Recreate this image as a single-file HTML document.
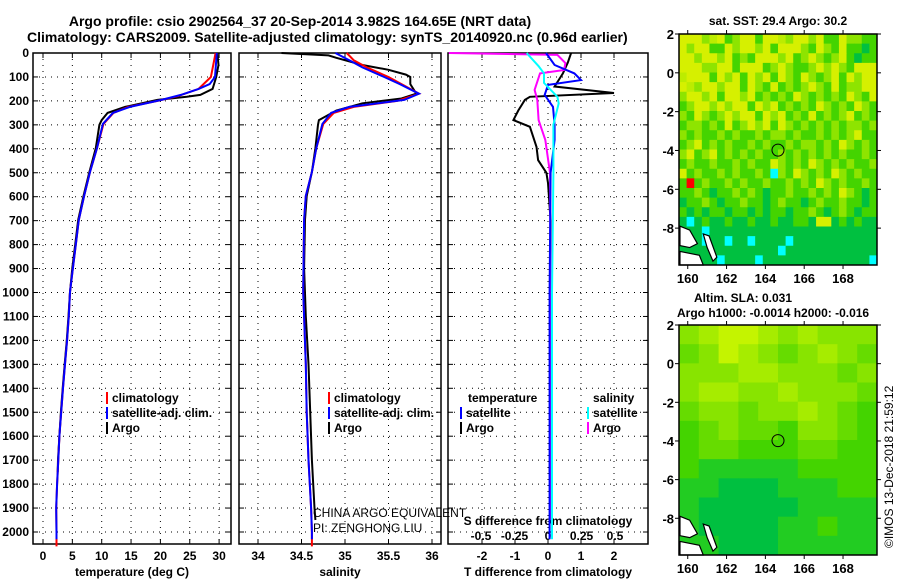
<!DOCTYPE html>
<html><head><meta charset="utf-8"><style>
html,body{margin:0;padding:0;background:#fff;}
svg{display:block;font-family:"Liberation Sans",sans-serif;font-weight:bold;}
text{font-size:12px;fill:#000;}
</style></head><body>
<svg id="fig" width="900" height="580" viewBox="0 0 900 580" xmlns="http://www.w3.org/2000/svg">
<text x="300" y="26" text-anchor="middle" style="font-size:14px">Argo profile: csio 2902564_37 20-Sep-2014 3.982S 164.65E (NRT data)</text>
<text x="27" y="42" style="font-size:14px">Climatology: CARS2009. Satellite-adjusted climatology: synTS_20140920.nc (0.96d earlier)</text>
<g id="g"></g>
</svg>
<script>
// ---- data ----
const depthTicks=[0,100,200,300,400,500,600,700,800,900,1000,1100,1200,1300,1400,1500,1600,1700,1800,1900,2000];
const tempTicks=[0,5,10,15,20,25,30];
const salTicks=[34,34.5,35,35.5,36];
const tdTicks=[-2,-1,0,1,2];
const sdTicks=[-0.5,-0.25,0,0.25,0.5];
const sdTickLabels=["-0.5","-0.25","0","0.25","0.5"];
// temperature profiles [depth, value]
const tArgo=[[0,29.7],[50,29.9],[100,29.5],[150,28.9],[175,26.8],[183,24.5],[196,19.5],[225,14],[250,11],[280,10],[300,9.6],[397,9.0],[497,7.9],[597,6.9],[697,6.0],[797,5.5],[898,5.0],[998,4.6],[1098,4.35],[1198,4.05],[1299,3.7],[1399,3.35],[1499,3.05],[1599,2.8],[1699,2.55],[1750,2.5]];
const tClim=[[0,29.4],[100,28.6],[150,26.5],[180,23],[200,19.5],[225,14.5],[250,12],[296,10.3],[397,9.2],[497,8.0],[597,7.0],[697,6.1],[797,5.6],[898,5.1],[998,4.6],[1098,4.4],[1198,4.1],[1299,3.75],[1399,3.4],[1499,3.1],[1599,2.8],[1699,2.6],[1800,2.4],[1900,2.25],[2000,2.3],[2060,2.3]];
const tSat=[[0,29.6],[100,29.3],[130,28.4],[150,26.5],[175,23.5],[196,20.2],[225,14.8],[250,11.9],[296,10.2],[397,9.2],[497,8.0],[597,7.0],[697,6.1],[797,5.6],[898,5.1],[998,4.6],[1098,4.4],[1198,4.1],[1299,3.75],[1399,3.4],[1499,3.1],[1599,2.8],[1699,2.6],[1800,2.4],[1900,2.25],[2000,2.3],[2030,2.3]];
// salinity profiles
const sArgo=[[0,34.27],[10,34.81],[20,34.9],[50,35.2],[70,35.5],[90,35.7],[100,35.75],[130,35.75],[170,35.82],[190,35.65],[210,35.2],[240,34.9],[280,34.7],[300,34.69],[397,34.66],[497,34.62],[597,34.56],[697,34.54],[898,34.53],[1098,34.55],[1299,34.58],[1499,34.6],[1699,34.62],[1900,34.65],[1950,34.66]];
const sClim=[[0,35.02],[30,35.1],[60,35.25],[100,35.5],[130,35.65],[170,35.85],[200,35.6],[225,35.1],[250,34.87],[296,34.75],[397,34.67],[497,34.62],[597,34.55],[697,34.53],[998,34.52],[1299,34.55],[1499,34.56],[1699,34.58],[1900,34.61],[2000,34.62],[2060,34.62]];
const sSat=[[0,34.89],[30,35.05],[60,35.2],[100,35.45],[130,35.63],[170,35.85],[196,35.68],[225,35.05],[250,34.84],[296,34.74],[397,34.67],[497,34.62],[597,34.55],[697,34.53],[998,34.52],[1299,34.55],[1499,34.56],[1699,34.58],[1900,34.61],[2000,34.62],[2030,34.62]];
// differences
const tdArgo=[[0,0.7],[40,0.6],[85,0.45],[140,0.2],[167,2.0],[183,-0.55],[196,-0.7],[240,-0.9],[280,-1.05],[308,-0.55],[392,-0.35],[447,-0.3],[500,-0.05],[543,0],[700,0.08],[1000,0.08],[1500,0.1],[1750,0.05]];
const tdSat=[[0,-0.06],[50,0.2],[85,0.8],[113,1.0],[133,0],[175,-0.1],[225,0.15],[300,0.2],[363,0.2],[500,0.08],[1000,0.05],[1500,0.05],[2030,0.05]];
const sdArgo=[[0,-0.74],[8,0.07],[42,0.13],[71,0.12],[85,-0.06],[154,-0.1],[196,-0.08],[280,-0.07],[363,-0.02],[500,0.015],[1000,0.02],[1500,0.02],[1950,0.02]];
const sdSat=[[0,-0.16],[55,-0.07],[85,-0.03],[125,-0.03],[183,0.07],[210,0.08],[300,0.04],[500,0.04],[1000,0.03],[1500,0.03],[2030,0.03]];
// maps
const mapLon=[159.55,169.75];
const mapLat=[2,-9.9];
const lonTicks=[160,162,164,166,168];
const latTicks=[2,0,-2,-4,-6,-8];
const sstRows=[
"YYYLyYGLYYGYYyLYYLYGGYLLGG","YLYYGGYLYYLYGYYYLGYLGYGGDG","YYLYYLYGLGYYYLYGLYLGLYGDGG","YYYLLYYGYYYGLYLGGLYLYLGYYY",
"yYYYGYLYGYLYGYLGYLGLYGYLYY","YyLYYLYYGYLGYGLGLYLGYGLLYY","LYYLYGYYLYGLGLGYLGLGLGYLGY","GLYYLYLYYGYLYGLGLGYLGLGYLG",
"LGYLGLYLYYGYLYGLGYGLGLYGLG","GLLGLGYGLYLYGYLGLGLGLGLLGL","LGLGGLGLGGLGLLGLGGLGLGLYGG","GLYGLGLGGLGLGGLGLLGLGYLGLG",
"LYGLYGLGLGLGGLGLGLGLGLGGLG","GLGGLGGLGLGGYLGLGYLGLGLGGL","YGLGGLGLGGLGCLGYLGLGYLGLGG","GRGLGGLGLGGLGGLGLGYLGLGGLG",
"GGLGDGGLGLGDGGLGGLGLGYLGDG","DGGLGDGGLGGDGLGGDGLGGLGGDG","GDGDGGDGGDGDGGDGGLGDGLGDGG","DCDGDDGDDGDDGDDGGDYYDGDGDD",
"DDDCDDDDDDDDDDDDDDDDDDDDDD","DDDCDDCDDCDDDDCDDDDDDDDDDD","DDDDDDDDDDDDDCDDDDDDDDDDDD","DDDDDCDDDDCDDDDDDDDDDDDDDC"];
const slaRows=["4566545444","3465434543","4445544434","4554454443","3443445432","2343324432","2332223322","2111112222","1100011122","1000001111","1000011211","1100011111"];
</script>
<script>
const NS="http://www.w3.org/2000/svg";
const G=document.getElementById('g');
function mk(tag,attrs,parent){const e=document.createElementNS(NS,tag);for(const k in attrs)e.setAttribute(k,attrs[k]);(parent||G).appendChild(e);return e;}
const TOP=53,BOT=544;
function yD(d){return TOP+d*0.2395;}
function xT(v){return 43+v*5.87;}
function xS(v){return 258+(v-34)*87;}
function xTD(v){return 548+v*33;}
function xSD(v){return 548+v*134;}
const panels=[{x0:33,x1:231,fx:xT,ticks:tempTicks,labs:tempTicks.map(String),title:"temperature (deg C)",name:"temperature-panel"},
{x0:239,x1:441,fx:xS,ticks:salTicks,labs:salTicks.map(String),title:"salinity",name:"salinity-panel"},
{x0:448,x1:648,fx:xTD,ticks:tdTicks,labs:tdTicks.map(String),title:"T difference from climatology",name:"difference-panel"}];
panels.forEach((p,pi)=>{
  const g=mk('g',{});
  
  
  depthTicks.forEach(d=>{
    const l=mk('line',{x1:p.x0,x2:p.x1,y1:yD(d),y2:yD(d),stroke:'#000','stroke-width':1,'stroke-dasharray':'1 5'},g);
    
    
    mk('line',{x1:p.x0,x2:p.x0+5,y1:yD(d),y2:yD(d),stroke:'#000'},g);
    mk('line',{x1:p.x1-5,x2:p.x1,y1:yD(d),y2:yD(d),stroke:'#000'},g);
  });
  p.ticks.forEach((t,i)=>{
    const x=p.fx(t);
    mk('line',{x1:x,x2:x,y1:TOP,y2:BOT,stroke:'#000','stroke-dasharray':'1 5'},g);
    mk('line',{x1:x,x2:x,y1:TOP,y2:TOP+5,stroke:'#000'},g);
    mk('line',{x1:x,x2:x,y1:BOT-5,y2:BOT,stroke:'#000'},g);
    const tx=mk('text',{x:x,y:560,'text-anchor':'middle'},g);tx.textContent=p.labs[i];
    
    
  });
  const tt=mk('text',{x:(p.x0+p.x1)/2,y:576,'text-anchor':'middle'},g);tt.textContent=p.title;
  
  
  const fr=mk('rect',{x:p.x0,y:TOP,width:p.x1-p.x0,height:BOT-TOP,fill:'none',stroke:'#000','stroke-width':1.5},g);
  
  
});
depthTicks.forEach(d=>{
  const t=mk('text',{x:29,y:yD(d)+4,'text-anchor':'end'});t.textContent=d;
  
  
});
const sdt=mk('text',{x:548,y:525,'text-anchor':'middle'});sdt.textContent="S difference from climatology";


sdTicks.forEach((v,i)=>{const t=mk('text',{x:xSD(v),y:540,'text-anchor':'middle'});t.textContent=sdTickLabels[i];
  
  });
function line(data,fx,color,name,w){
  const pts=data.map(p=>fx(p[1]).toFixed(1)+','+yD(p[0]).toFixed(1)).join(' ');
  const e=mk('polyline',{points:pts,fill:'none',stroke:color,'stroke-width':w||2});
  
  
}
line(tArgo,xT,'#000','temperature-argo-line');
line(tClim,xT,'#f00','temperature-climatology-line');
line(tSat,xT,'#00f','temperature-satellite-line');
line(sArgo,xS,'#000','salinity-argo-line');
line(sClim,xS,'#f00','salinity-climatology-line');
line(sSat,xS,'#00f','salinity-satellite-line');
line(tdArgo,xTD,'#000','tdiff-argo-line');
line(sdArgo,xSD,'#f0f','sdiff-argo-line');
line(tdSat,xTD,'#00f','tdiff-satellite-line');
line(sdSat,xSD,'#0ff','sdiff-satellite-line');
function legend(x,y,items){
  items.forEach((it,i)=>{
    const yy=y+i*15;
    mk('rect',{x:x,y:yy-10,width:2,height:12,fill:it[1]});
    const t=mk('text',{x:x+6,y:yy});t.textContent=it[0];
    
    
  });
}
legend(106,402,[["climatology","#f00"],["satellite-adj. clim.","#00f"],["Argo","#000"]]);
legend(328,402,[["climatology","#f00"],["satellite-adj. clim.","#00f"],["Argo","#000"]]);
const lt=mk('text',{x:468,y:402});lt.textContent="temperature";
const ls=mk('text',{x:593,y:402});ls.textContent="salinity";
legend(460,417,[["satellite","#00f"],["Argo","#000"]]);
legend(587,417,[["satellite","#0ff"],["Argo","#f0f"]]);
const c1=mk('text',{x:313,y:517,style:'font-weight:normal;font-size:12px'});c1.textContent="CHINA ARGO EQUIVALENT";


const c2=mk('text',{x:313,y:532,style:'font-weight:normal;font-size:12px'});c2.textContent="PI: ZENGHONG LIU";


// ---- maps ----
const MX0=679,MX1=877;
function mapX(lon){return MX0+(lon-mapLon[0])/(mapLon[1]-mapLon[0])*(MX1-MX0);}
const sstCol={Y:'#d6f000',y:'#bcec00',L:'#8ee400',G:'#44d400',D:'#00c040',C:'#00ffff',R:'#ff0000'};
const slaCol=['#00c040','#22cc22','#44d400','#66dc00','#88e400','#a6ec00','#c4f400'];
function drawMap(top,bot,rows,colf,name){
  const g=mk('g',{});
  
  
  const mapY=lat=>top+(mapLat[0]-lat)/(mapLat[0]-mapLat[1])*(bot-top);
  const rh=(bot-top)/rows.length;
  rows.forEach((r,ri)=>{
    const cw=(MX1-MX0)/r.length;
    for(let ci=0;ci<r.length;ci++){
      const c=mk('rect',{x:MX0+ci*cw,y:top+ri*rh,width:cw+0.5,height:rh+0.5,fill:colf(r[ci])},g);
      
      
    }
  });
  const isl=[[[159.6,-7.9],[160.1,-8.1],[160.5,-8.8],[160.1,-9.0],[159.6,-8.9]],[[160.8,-8.3],[161.1,-8.4],[161.5,-9.5],[161.3,-9.7],[161.0,-9.0]],[[159.6,-9.2],[160.6,-9.4],[160.8,-9.9],[159.6,-9.9]]];
  isl.forEach(poly=>{
    const p=mk('polygon',{points:poly.map(q=>mapX(q[0])+','+mapY(q[1])).join(' '),fill:'#fff',stroke:'#000','stroke-width':1.2},g);
    
    
  });
  const circ=mk('circle',{cx:mapX(164.65),cy:mapY(-3.982),r:6,fill:'none',stroke:'#000','stroke-width':1},g);
  
  
  mk('rect',{x:MX0,y:top,width:MX1-MX0,height:bot-top,fill:'none',stroke:'#000','stroke-width':1.5},g);
  latTicks.forEach(l=>{
    const y=mapY(l);
    mk('line',{x1:MX0-4,x2:MX0,y1:y,y2:y,stroke:'#000'},g);
    mk('line',{x1:MX1,x2:MX1+4,y1:y,y2:y,stroke:'#000'},g);
    const t=mk('text',{x:674,y:y+5,'text-anchor':'end',style:'font-size:13px'},g);t.textContent=l;
    
    
  });
  lonTicks.forEach(l=>{
    const x=mapX(l);
    mk('line',{x1:x,x2:x,y1:top-4,y2:top,stroke:'#000'},g);
    mk('line',{x1:x,x2:x,y1:bot,y2:bot+4,stroke:'#000'},g);
    const t=mk('text',{x:x,y:bot+18,'text-anchor':'middle',style:'font-size:13px'},g);t.textContent=l;
    
    
  });
}
drawMap(34,265,sstRows,c=>sstCol[c],'sst-map');
drawMap(325,555,slaRows,c=>slaCol[+c],'sla-map');
const m1=mk('text',{x:778,y:25,'text-anchor':'middle'});m1.textContent="sat. SST: 29.4 Argo: 30.2";


const m2=mk('text',{x:694,y:302});m2.textContent="Altim. SLA: 0.031";


const m3=mk('text',{x:677,y:317});m3.textContent="Argo h1000: -0.0014 h2000: -0.016";


const cp=mk('text',{x:0,y:0,transform:'translate(893,548) rotate(-90)',style:'font-weight:normal;font-size:12px'});cp.textContent="©IMOS 13-Dec-2018 21:59:12";


</script>
</body></html>
